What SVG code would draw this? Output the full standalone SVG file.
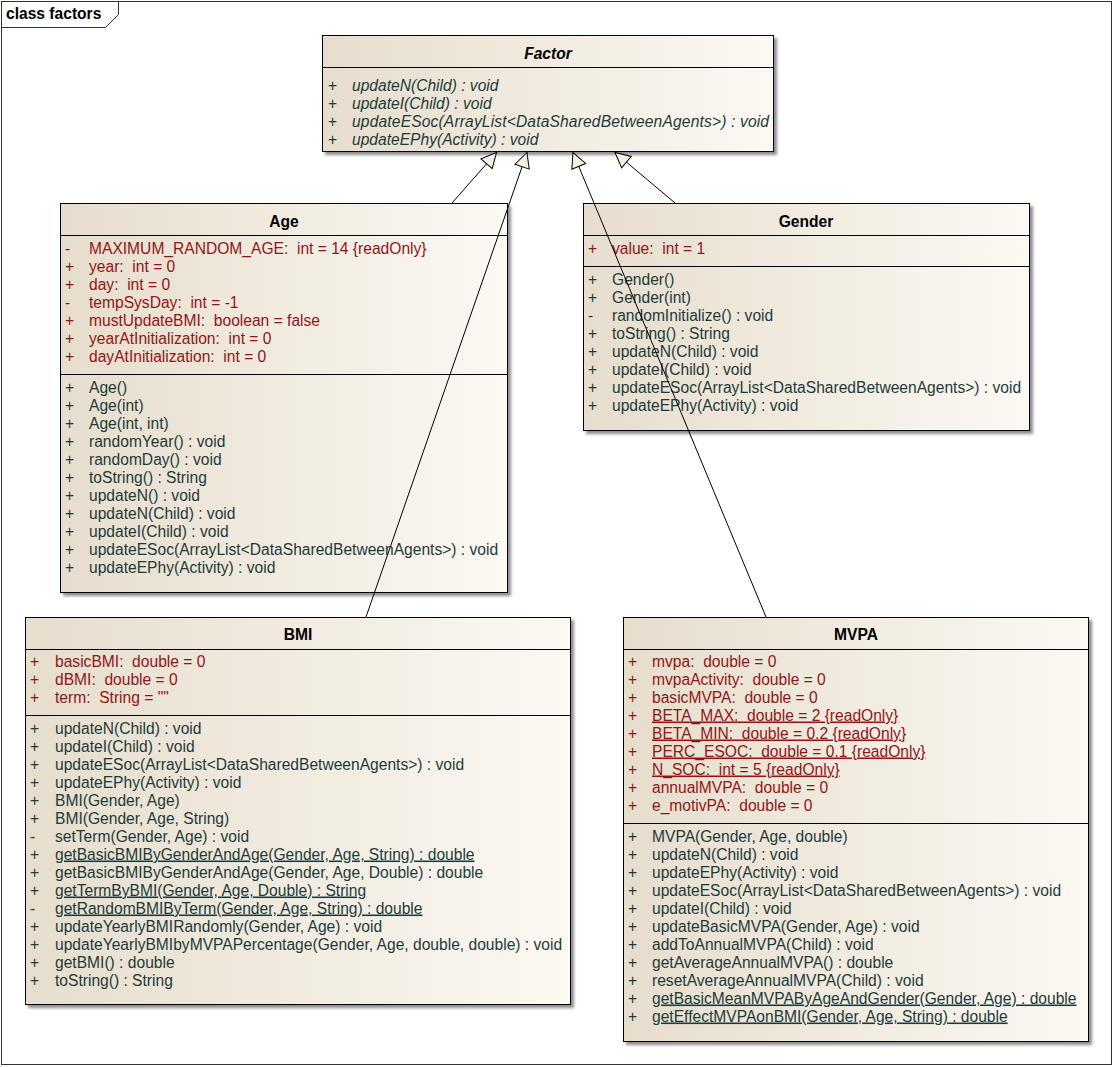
<svg xmlns="http://www.w3.org/2000/svg" width="1114" height="1067" viewBox="0 0 1114 1067">
  <defs>
    <linearGradient id="boxFill" x1="0" y1="0" x2="1" y2="0">
      <stop offset="0" stop-color="#e6ddcd"/>
      <stop offset="1" stop-color="#fcf9f3"/>
    </linearGradient>
    <filter id="shadow" x="-5%" y="-5%" width="110%" height="110%">
      <feDropShadow dx="3" dy="3" stdDeviation="1.5" flood-color="#707070" flood-opacity="0.8"/>
    </filter>
    <marker id="generalization" markerUnits="userSpaceOnUse" markerWidth="20" markerHeight="20" refX="0" refY="0" viewBox="-17 -10 19 20" orient="auto" overflow="visible">
      <path d="M0,0 L-15,-7.5 L-15,7.5 Z" fill="#f6efe4" stroke="#000" stroke-width="1"/>
    </marker>
  </defs>
  <style>
    text { font-family: "Liberation Sans", Arial, sans-serif; font-size: 15.6px; white-space: pre; }
    .box { fill: url(#boxFill); stroke: #000; stroke-width: 1; filter: url(#shadow); }
    .sep { stroke: #000; stroke-width: 1; }
    .title { font-weight: bold; fill: #000; text-anchor: middle; }
    .attr { fill: #901616; }
    .op { fill: #1d3b3b; }
    .static { text-decoration: underline; }
    .abstract { font-style: italic; }
    .conn { stroke: #000; stroke-width: 1; fill: none; marker-end: url(#generalization); }
  </style>

  <rect width="1114" height="1067" fill="#fff"/>

  <!-- diagram frame with its name tab -->
  <g id="frame">
    <rect x="1.5" y="1.5" width="1110" height="1063" fill="none" stroke="#333" stroke-width="1"/>
    <path d="M1.5,27.5 H105.5 L118.5,14.5 V1.5" fill="none" stroke="#333" stroke-width="1"/>
    <text x="6" y="19" style="font-weight:bold">class factors</text>
  </g>

  <!-- Factor (abstract) -->
  <g id="Factor">
    <rect class="box" x="322.5" y="35.5" width="451" height="116"/>
    <line class="sep" x1="322.5" y1="67.5" x2="773.5" y2="67.5"/>
    <text class="title abstract" x="548" y="58.5">Factor</text>
    <g class="op">
      <text x="328" y="90.5">+</text><text class="abstract" x="352" y="90.5">updateN(Child) : void</text>
      <text x="328" y="108.5">+</text><text class="abstract" x="352" y="108.5">updateI(Child) : void</text>
      <text x="328" y="126.5">+</text><text class="abstract" x="352" y="126.5" textLength="417">updateESoc(ArrayList&lt;DataSharedBetweenAgents&gt;) : void</text>
      <text x="328" y="144.5">+</text><text class="abstract" x="352" y="144.5">updateEPhy(Activity) : void</text>
    </g>
  </g>

  <!-- Age -->
  <g id="Age">
    <rect class="box" x="60.5" y="203.5" width="447" height="389"/>
    <line class="sep" x1="60.5" y1="235.5" x2="507.5" y2="235.5"/>
    <line class="sep" x1="60.5" y1="374.5" x2="507.5" y2="374.5"/>
    <text class="title" x="284" y="226.5">Age</text>
    <g class="attr">
      <text x="65" y="253.5">-</text><text x="89" y="253.5">MAXIMUM_RANDOM_AGE:  int = 14 {readOnly}</text>
      <text x="65" y="271.5">+</text><text x="89" y="271.5">year:  int = 0</text>
      <text x="65" y="289.5">+</text><text x="89" y="289.5">day:  int = 0</text>
      <text x="65" y="307.5">-</text><text x="89" y="307.5">tempSysDay:  int = -1</text>
      <text x="65" y="325.5">+</text><text x="89" y="325.5">mustUpdateBMI:  boolean = false</text>
      <text x="65" y="343.5">+</text><text x="89" y="343.5">yearAtInitialization:  int = 0</text>
      <text x="65" y="361.5">+</text><text x="89" y="361.5">dayAtInitialization:  int = 0</text>
    </g>
    <g class="op">
      <text x="65" y="392.5">+</text><text x="89" y="392.5">Age()</text>
      <text x="65" y="410.5">+</text><text x="89" y="410.5">Age(int)</text>
      <text x="65" y="428.5">+</text><text x="89" y="428.5">Age(int, int)</text>
      <text x="65" y="446.5">+</text><text x="89" y="446.5">randomYear() : void</text>
      <text x="65" y="464.5">+</text><text x="89" y="464.5">randomDay() : void</text>
      <text x="65" y="482.5">+</text><text x="89" y="482.5">toString() : String</text>
      <text x="65" y="500.5">+</text><text x="89" y="500.5">updateN() : void</text>
      <text x="65" y="518.5">+</text><text x="89" y="518.5">updateN(Child) : void</text>
      <text x="65" y="536.5">+</text><text x="89" y="536.5">updateI(Child) : void</text>
      <text x="65" y="554.5">+</text><text x="89" y="554.5">updateESoc(ArrayList&lt;DataSharedBetweenAgents&gt;) : void</text>
      <text x="65" y="572.5">+</text><text x="89" y="572.5">updateEPhy(Activity) : void</text>
    </g>
  </g>

  <!-- Gender -->
  <g id="Gender">
    <rect class="box" x="583.5" y="203.5" width="446" height="227"/>
    <line class="sep" x1="583.5" y1="235.5" x2="1029.5" y2="235.5"/>
    <line class="sep" x1="583.5" y1="266.5" x2="1029.5" y2="266.5"/>
    <text class="title" x="806" y="226.5">Gender</text>
    <g class="attr">
      <text x="588" y="253.5">+</text><text x="612" y="253.5">value:  int = 1</text>
    </g>
    <g class="op">
      <text x="588" y="284.5">+</text><text x="612" y="284.5">Gender()</text>
      <text x="588" y="302.5">+</text><text x="612" y="302.5">Gender(int)</text>
      <text x="588" y="320.5">-</text><text x="612" y="320.5">randomInitialize() : void</text>
      <text x="588" y="338.5">+</text><text x="612" y="338.5">toString() : String</text>
      <text x="588" y="356.5">+</text><text x="612" y="356.5">updateN(Child) : void</text>
      <text x="588" y="374.5">+</text><text x="612" y="374.5">updateI(Child) : void</text>
      <text x="588" y="392.5">+</text><text x="612" y="392.5">updateESoc(ArrayList&lt;DataSharedBetweenAgents&gt;) : void</text>
      <text x="588" y="410.5">+</text><text x="612" y="410.5">updateEPhy(Activity) : void</text>
    </g>
  </g>

  <!-- BMI -->
  <g id="BMI">
    <rect class="box" x="25.5" y="617.5" width="545" height="387"/>
    <line class="sep" x1="25.5" y1="649.5" x2="570.5" y2="649.5"/>
    <line class="sep" x1="25.5" y1="715.5" x2="570.5" y2="715.5"/>
    <text class="title" x="298" y="639.5">BMI</text>
    <g class="attr">
      <text x="30" y="666.5">+</text><text x="55" y="666.5">basicBMI:  double = 0</text>
      <text x="30" y="684.5">+</text><text x="55" y="684.5">dBMI:  double = 0</text>
      <text x="30" y="702.5">+</text><text x="55" y="702.5">term:  String = ""</text>
    </g>
    <g class="op">
      <text x="30" y="733.5">+</text><text x="55" y="733.5">updateN(Child) : void</text>
      <text x="30" y="751.5">+</text><text x="55" y="751.5">updateI(Child) : void</text>
      <text x="30" y="769.5">+</text><text x="55" y="769.5">updateESoc(ArrayList&lt;DataSharedBetweenAgents&gt;) : void</text>
      <text x="30" y="787.5">+</text><text x="55" y="787.5">updateEPhy(Activity) : void</text>
      <text x="30" y="805.5">+</text><text x="55" y="805.5">BMI(Gender, Age)</text>
      <text x="30" y="823.5">+</text><text x="55" y="823.5">BMI(Gender, Age, String)</text>
      <text x="30" y="841.5">-</text><text x="55" y="841.5">setTerm(Gender, Age) : void</text>
      <text x="30" y="859.5">+</text><text class="static" x="55" y="859.5">getBasicBMIByGenderAndAge(Gender, Age, String) : double</text>
      <text x="30" y="877.5">+</text><text x="55" y="877.5">getBasicBMIByGenderAndAge(Gender, Age, Double) : double</text>
      <text x="30" y="895.5">+</text><text class="static" x="55" y="895.5">getTermByBMI(Gender, Age, Double) : String</text>
      <text x="30" y="913.5">-</text><text class="static" x="55" y="913.5">getRandomBMIByTerm(Gender, Age, String) : double</text>
      <text x="30" y="931.5">+</text><text x="55" y="931.5">updateYearlyBMIRandomly(Gender, Age) : void</text>
      <text x="30" y="949.5">+</text><text x="55" y="949.5">updateYearlyBMIbyMVPAPercentage(Gender, Age, double, double) : void</text>
      <text x="30" y="967.5">+</text><text x="55" y="967.5">getBMI() : double</text>
      <text x="30" y="985.5">+</text><text x="55" y="985.5">toString() : String</text>
    </g>
  </g>

  <!-- MVPA -->
  <g id="MVPA">
    <rect class="box" x="623.5" y="617.5" width="465" height="424"/>
    <line class="sep" x1="623.5" y1="649.5" x2="1088.5" y2="649.5"/>
    <line class="sep" x1="623.5" y1="823.5" x2="1088.5" y2="823.5"/>
    <text class="title" x="856" y="639.5">MVPA</text>
    <g class="attr">
      <text x="628" y="666.5">+</text><text x="652" y="666.5">mvpa:  double = 0</text>
      <text x="628" y="684.5">+</text><text x="652" y="684.5">mvpaActivity:  double = 0</text>
      <text x="628" y="702.5">+</text><text x="652" y="702.5">basicMVPA:  double = 0</text>
      <text x="628" y="720.5">+</text><text class="static" x="652" y="720.5">BETA_MAX:  double = 2 {readOnly}</text>
      <text x="628" y="738.5">+</text><text class="static" x="652" y="738.5">BETA_MIN:  double = 0.2 {readOnly}</text>
      <text x="628" y="756.5">+</text><text class="static" x="652" y="756.5">PERC_ESOC:  double = 0.1 {readOnly}</text>
      <text x="628" y="774.5">+</text><text class="static" x="652" y="774.5">N_SOC:  int = 5 {readOnly}</text>
      <text x="628" y="792.5">+</text><text x="652" y="792.5">annualMVPA:  double = 0</text>
      <text x="628" y="810.5">+</text><text x="652" y="810.5">e_motivPA:  double = 0</text>
    </g>
    <g class="op">
      <text x="628" y="841.5">+</text><text x="652" y="841.5">MVPA(Gender, Age, double)</text>
      <text x="628" y="859.5">+</text><text x="652" y="859.5">updateN(Child) : void</text>
      <text x="628" y="877.5">+</text><text x="652" y="877.5">updateEPhy(Activity) : void</text>
      <text x="628" y="895.5">+</text><text x="652" y="895.5">updateESoc(ArrayList&lt;DataSharedBetweenAgents&gt;) : void</text>
      <text x="628" y="913.5">+</text><text x="652" y="913.5">updateI(Child) : void</text>
      <text x="628" y="931.5">+</text><text x="652" y="931.5">updateBasicMVPA(Gender, Age) : void</text>
      <text x="628" y="949.5">+</text><text x="652" y="949.5">addToAnnualMVPA(Child) : void</text>
      <text x="628" y="967.5">+</text><text x="652" y="967.5">getAverageAnnualMVPA() : double</text>
      <text x="628" y="985.5">+</text><text x="652" y="985.5">resetAverageAnnualMVPA(Child) : void</text>
      <text x="628" y="1003.5">+</text><text class="static" x="652" y="1003.5">getBasicMeanMVPAByAgeAndGender(Gender, Age) : double</text>
      <text x="628" y="1021.5">+</text><text class="static" x="652" y="1021.5">getEffectMVPAonBMI(Gender, Age, String) : double</text>
    </g>
  </g>

  <!-- generalizations to Factor -->
  <g id="connectors">
    <line class="conn" x1="452" y1="203" x2="496.5" y2="152.5"/>
    <line class="conn" x1="366" y1="617" x2="527" y2="152.5"/>
    <line class="conn" x1="766" y1="617" x2="573" y2="152.5"/>
    <line class="conn" x1="675" y1="203" x2="615" y2="152.5"/>
  </g>
</svg>
